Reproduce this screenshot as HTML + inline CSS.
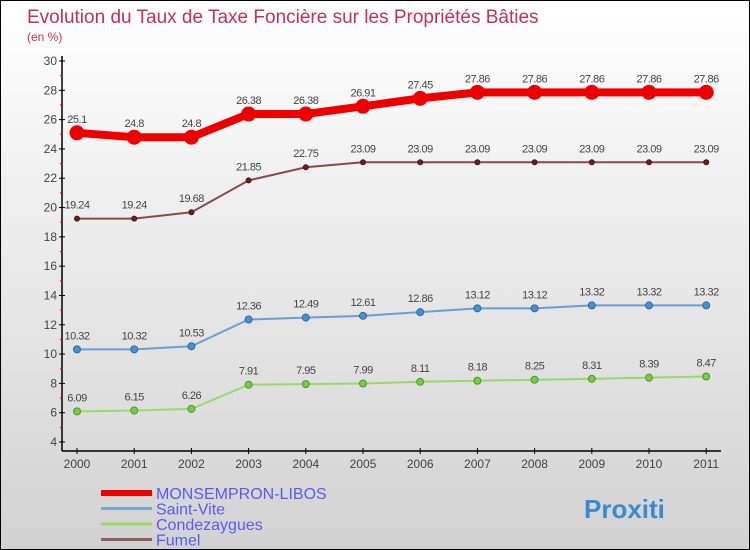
<!DOCTYPE html>
<html><head><meta charset="utf-8"><style>
body{margin:0}
#c{width:750px;height:550px;position:relative;overflow:hidden;border:1px solid #000;box-sizing:border-box;background:linear-gradient(#ffffff,#d2d2d2);font-family:"Liberation Sans",sans-serif}
</style></head><body>
<div id="c">
<svg id="s" width="750" height="550" style="position:absolute;left:0;top:0">
<text x="26" y="22" font-size="19" fill="#c0305f">Evolution du Taux de Taxe Foncière sur les Propriétés Bâties</text>
<text x="26" y="40" font-size="12" fill="#c0305f">(en %)</text>
<g id="g"></g>
</svg>
</div>
<script>
const years=[2000,2001,2002,2003,2004,2005,2006,2007,2008,2009,2010,2011];
const monsempron=[25.1,24.8,24.8,26.38,26.38,26.91,27.45,27.86,27.86,27.86,27.86,27.86];
const saintVite=[10.32,10.32,10.53,12.36,12.49,12.61,12.86,13.12,13.12,13.32,13.32,13.32];
const condezaygues=[6.09,6.15,6.26,7.91,7.95,7.99,8.11,8.18,8.25,8.31,8.39,8.47];
const fumel=[19.24,19.24,19.68,21.85,22.75,23.09,23.09,23.09,23.09,23.09,23.09,23.09];
const yTicks=[4,6,8,10,12,14,16,18,20,22,24,26,28,30];
const ns="http://www.w3.org/2000/svg";
const g=document.getElementById('g');
const X=i=>76+i*57.2;
const Y=v=>441-(v-4)*(381/26);
function el(t,a){const e=document.createElementNS(ns,t);for(const k in a)e.setAttribute(k,a[k]);g.appendChild(e);return e;}
let ax=el('line',{x1:61,y1:55,x2:61,y2:450,stroke:'#000','stroke-width':1.5});


let bx=el('line',{x1:61,y1:450,x2:720,y2:450,stroke:'#000','stroke-width':1.5});


yTicks.forEach(v=>{
 el('line',{x1:58,x2:64,y1:Y(v),y2:Y(v),stroke:'#000'});
 if(v<30) el('line',{x1:59,x2:62,y1:Y(v+1),y2:Y(v+1),stroke:'#e00'});
 let t=el('text',{x:56,y:Y(v)+4,'font-size':12,fill:'#444','text-anchor':'end'});
 t.textContent=v;
 
 
});
years.forEach((y,i)=>{
 el('line',{x1:X(i),x2:X(i),y1:447,y2:453,stroke:'#000'});
 let t=el('text',{x:X(i),y:467,'font-size':12,fill:'#444','text-anchor':'middle'});
 t.textContent=y;
 
 
});
function series(data,name,col,dot,w,r,dark){
 let p=el('polyline',{points:data.map((v,i)=>X(i)+','+Y(v)).join(' '),fill:'none',stroke:col,'stroke-width':w});
 
 
 data.forEach((v,i)=>{
  let c=el('circle',{cx:X(i),cy:Y(v),r:r,fill:dot,stroke:dark,'stroke-width':1});
  
  
  let t=el('text',{x:X(i),y:Y(v)-10,'font-size':11,fill:'#444','text-anchor':'middle','letter-spacing':'-0.5'});
  t.textContent=v;
  
  
 });
}
series(condezaygues,'condezaygues','#99d96a','#77cc44',2,3.5,'#4a9a2a');
series(saintVite,'saint-vite','#6a9fd0','#4a90d0',2,3.5,'#2a6aa0');
series(fumel,'fumel','#8a4a4a','#6a2020',2,2.5,'#501010');
series(monsempron,'monsempron-libos','#ee0000','#ee0000',8,7,'#ee0000');
const legend=[['MONSEMPRON-LIBOS','#ee0000',6],['Saint-Vite','#7aa8cc',3],['Condezaygues','#99d96a',3],['Fumel','#8a6060',3]];
legend.forEach((l,i)=>{
 const y=492+i*15.5;
 let ln=el('line',{x1:100,x2:151,y1:y,y2:y,stroke:l[1],'stroke-width':l[2]});
 
 
 let t=el('text',{x:155,y:y+6,'font-size':16,fill:'#5a5af0'});
 t.textContent=l[0];
 
 
});
let lg=el('text',{x:583,y:517,'font-size':26,'font-weight':'bold',fill:'#3a8ad0'});
lg.textContent='Proxiti';


</script>
</body></html>
